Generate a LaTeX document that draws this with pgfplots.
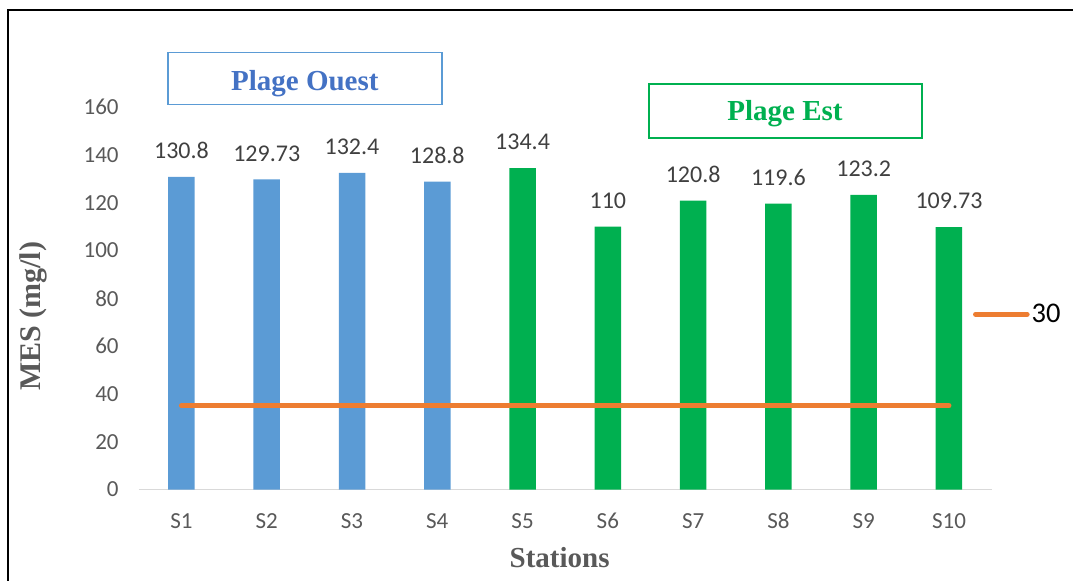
\documentclass[border=0pt]{standalone}
\usepackage{pgfplots}
\pgfplotsset{compat=1.18}
\usepackage{fontspec}
\setmainfont{Carlito}
\newfontfamily\tnr{Liberation Serif}
\definecolor{barblue}{HTML}{5B9BD5}
\definecolor{bargreen}{HTML}{00B050}
\definecolor{lineorange}{HTML}{ED7D31}
\definecolor{titleblue}{HTML}{4472C4}
\definecolor{txtgray}{HTML}{595959}
\definecolor{lblgray}{HTML}{404040}
\definecolor{axgray}{HTML}{D9D9D9}
\begin{document}
\begin{tikzpicture}
\useasboundingbox (0,0) rectangle (1073bp,581bp);
\begin{axis}[
  at={(138.8bp,91.5bp)}, anchor=south west,
  scale only axis, width=852.8bp, height=382.5bp,
  xmin=-0.5, xmax=9.5, ymin=0, ymax=160,
  xtick={0,1,2,3,4,5,6,7,8,9},
  xticklabels={S1,S2,S3,S4,S5,S6,S7,S8,S9,S10},
  ytick={0,20,40,60,80,100,120,140,160},
  axis x line*=bottom, axis y line*=left,
  x axis line style={draw=axgray, line width=1.5bp, -},
  y axis line style={draw=none, -},
  major tick length=0pt,
  tick style={draw=none},
  /pgf/number format/assume math mode=true,
  ticklabel style={font=\fontsize{23bp}{27bp}\selectfont, text=txtgray, inner sep=0pt},
  xticklabel style={anchor=base, yshift=-38.5bp},
  yticklabel style={anchor=east, xshift=-20bp},
  xlabel={Stations},
  ylabel={MES (mg/l)},
  xlabel style={at={(axis description cs:0.4935,0)}, anchor=base, yshift=-77.8bp, inner sep=0pt,
    font=\tnr\bfseries\fontsize{29bp}{32bp}\selectfont, text=txtgray},
  ylabel style={at={(axis description cs:-0.1241,0.4528)}, anchor=center, inner sep=0pt,
    font=\tnr\bfseries\fontsize{30bp}{33bp}\selectfont, text=txtgray},
  legend style={draw=none, fill=none, at={(axis description cs:0.978,0.458)}, anchor=west,
    inner sep=0pt, font=\fontsize{28.5bp}{31bp}\selectfont, text=black,
    /tikz/every even column/.append style={column sep=3bp}},
  legend cell align=left,
  legend image code/.code={\draw[#1, line width=5bp, line cap=round] (0bp,0bp) -- (51.6bp,0bp);},
]
\addplot[ybar, bar width=26.5bp, fill=barblue, draw=none, forget plot,
  nodes near coords, point meta=explicit symbolic,
  nodes near coords style={font=\fontsize{24bp}{28bp}\selectfont, text=lblgray, anchor=base, yshift=18.3bp, inner sep=0pt}]
  coordinates {(0,130.8) [130.8] (1,129.73) [129.73] (2,132.4) [132.4] (3,128.8) [128.8]};
\addplot[ybar, bar width=26.5bp, fill=bargreen, draw=none, forget plot,
  nodes near coords, point meta=explicit symbolic,
  nodes near coords style={font=\fontsize{24bp}{28bp}\selectfont, text=lblgray, anchor=base, yshift=18.3bp, inner sep=0pt}]
  coordinates {(4,134.4) [134.4] (5,110) [110] (6,120.8) [120.8] (7,119.6) [119.6] (8,123.2) [123.2] (9,109.73) [109.73]};
\addplot[lineorange, line width=5bp, line cap=round, mark=none]
  coordinates {(0,35) (1,35) (2,35) (3,35) (4,35) (5,35) (6,35) (7,35) (8,35) (9,35)};
\addlegendentry{30}
\end{axis}
\draw[barblue, line width=1.5bp] (168bp,476.7bp) rectangle (442bp,528.3bp);
\node[anchor=base, inner sep=0pt, text=titleblue, font=\tnr\bfseries\fontsize{29bp}{32bp}\selectfont] at (304.8bp,490.3bp) {Plage Ouest};
\draw[bargreen, line width=1.8bp] (649bp,442.7bp) rectangle (921.6bp,497.3bp);
\node[anchor=base, inner sep=0pt, text=bargreen, font=\tnr\bfseries\fontsize{29bp}{32bp}\selectfont] at (785bp,460.3bp) {Plage Est};
\draw[black, line width=1.7bp] (8.3bp,0) -- (8.3bp,571bp) -- (1073bp,571bp);
\end{tikzpicture}
\end{document}
